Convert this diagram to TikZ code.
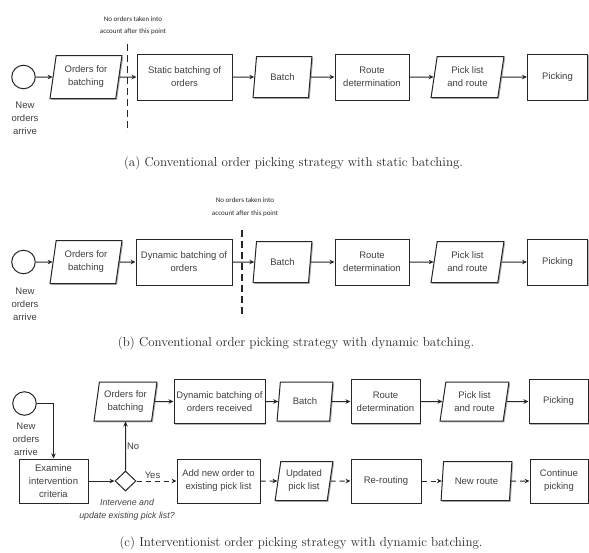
\documentclass[tikz,border=0pt]{standalone}
\usepackage{fontspec}
\newfontfamily\boxfont{Liberation Sans}
\newfontfamily\notefont{Carlito}
\usetikzlibrary{arrows.meta,shapes.geometric,shadows}

\tikzset{
  proc/.style={draw=black!85, line width=1pt, fill=white, align=center, inner sep=1pt,
    text=black!75, font=\boxfont\fontsize{9.5}{13}\selectfont,
    drop shadow={shadow xshift=1.3pt, shadow yshift=-1.3pt, fill=black!60, opacity=0.5}},
  data/.style={proc, trapezium, trapezium left angle=79, trapezium right angle=101,
    trapezium stretches=true},
  start/.style={circle, draw=black!85, line width=1pt, minimum size=23.5pt, inner sep=0pt},
  decide/.style={diamond, draw=black!85, line width=1pt, fill=white, minimum width=21pt,
    minimum height=20pt, inner sep=0pt},
  lbl/.style={align=center, inner sep=1pt, text=black!75, font=\boxfont\fontsize{9.5}{13}\selectfont},
  ask/.style={lbl, font=\boxfont\itshape\fontsize{8.8}{13}\selectfont},
  note/.style={align=center, inner sep=0pt, text=black!85, font=\notefont\fontsize{7}{12.5}\selectfont},
  capt/.style={inner sep=0pt, text=black!85, font=\fontsize{13}{15}\selectfont},
  cut/.style={draw=black!85, line width=1.3pt, dash pattern=on 7pt off 4pt},
  flow/.style={draw=black!85, line width=1pt, ->},
  later/.style={flow, dash pattern=on 5pt off 4pt}
}

\begin{document}
\begin{tikzpicture}[x=1pt, y=-1pt, >={Stealth[length=5pt,width=4.5pt]}]
  \useasboundingbox (0,0) rectangle (589,552);

  % (a) static batching
  \node[start] (newA) at (23.5, 77) {};
  \node[lbl] (newAtxt) at (25, 118) {New\\orders\\arrive};
  \node[data, minimum width=72pt, minimum height=43pt] (ordA) at (86, 77) {Orders for\\batching};
  \node[proc, minimum width=95pt, minimum height=46pt] (statA) at (184.5, 77) {Static batching of\\orders};
  \node[data, minimum width=59pt, minimum height=41pt] (batA) at (282.5, 77) {Batch};
  \node[proc, minimum width=74pt, minimum height=46pt] (routeA) at (372, 77) {Route\\determination};
  \node[data, minimum width=73pt, minimum height=41pt] (pickA) at (467.5, 77) {Pick list\\and route};
  \node[proc, minimum width=60pt, minimum height=46pt] (doA) at (557.5, 77) {Picking};
  \coordinate (cutAtop) at (127.7, 44);
  \coordinate (cutAbot) at (127.7, 132);
  \node[note] (noteA) at (133, 25.5) {No orders taken into\\account after this point};
  \node[capt] (captA) at (293.5, 163) {(a) Conventional order picking strategy with static batching.};

  \draw [flow] (newA) to (ordA);
  \draw [flow] (ordA) to (statA);
  \draw [flow] (statA) to (batA);
  \draw [flow] (batA) to (routeA);
  \draw [flow] (routeA) to (pickA);
  \draw [flow] (pickA) to (doA);
  \draw [cut] (cutAtop) to (cutAbot);

  % (b) dynamic batching
  \node[start] (newB) at (23.5, 262) {};
  \node[lbl] (newBtxt) at (25, 304) {New\\orders\\arrive};
  \node[data, minimum width=72pt, minimum height=43pt] (ordB) at (86, 262) {Orders for\\batching};
  \node[proc, minimum width=96pt, minimum height=46pt] (dynB) at (184, 262) {Dynamic batching of\\orders};
  \node[data, minimum width=59pt, minimum height=41pt] (batB) at (282.5, 262) {Batch};
  \node[proc, minimum width=74pt, minimum height=46pt] (routeB) at (372, 262) {Route\\determination};
  \node[data, minimum width=73pt, minimum height=41pt] (pickB) at (467.5, 262) {Pick list\\and route};
  \node[proc, minimum width=60pt, minimum height=46pt] (doB) at (557.5, 262) {Picking};
  \coordinate (cutBtop) at (242, 230);
  \coordinate (cutBbot) at (242, 315);
  \node[note] (noteB) at (245, 207) {No orders taken into\\account after this point};
  \node[capt] (captB) at (296, 343) {(b) Conventional order picking strategy with dynamic batching.};

  \draw [flow] (newB) to (ordB);
  \draw [flow] (ordB) to (dynB);
  \draw [flow] (dynB) to (batB);
  \draw [flow] (batB) to (routeB);
  \draw [flow] (routeB) to (pickB);
  \draw [flow] (pickB) to (doB);
  \draw [cut] (cutBtop) to (cutBbot);

  % (c) interventionist
  \node[start] (newC) at (24.5, 403.5) {};
  \node[lbl] (newCtxt) at (26, 439) {New\\orders\\arrive};
  \node[proc, minimum width=69pt, minimum height=44pt] (examC) at (53.5, 481) {Examine\\intervention\\criteria};
  \node[decide] (askC) at (125.5, 481) {};
  \node[ask] (askCtxt) at (127, 509.5) {Intervene and\\update existing pick list?};

  \node[data, minimum width=63pt, minimum height=39pt] (ordC) at (125.5, 401.5) {Orders for\\batching};
  \node[proc, minimum width=91pt, minimum height=44pt] (dynC) at (219.5, 401.5) {Dynamic batching of\\orders received};
  \node[data, minimum width=56pt, minimum height=39pt] (batC) at (305, 401.5) {Batch};
  \node[proc, minimum width=69pt, minimum height=44pt] (routeC) at (385.5, 401.5) {Route\\determination};
  \node[data, minimum width=69pt, minimum height=39pt] (pickC) at (474.5, 401.5) {Pick list\\and route};
  \node[proc, minimum width=59pt, minimum height=44pt] (doC) at (558.5, 401.5) {Picking};

  \node[proc, minimum width=83pt, minimum height=44pt] (addC) at (218.5, 481) {Add new order to\\existing pick list};
  \node[data, minimum width=58pt, minimum height=39pt] (updC) at (304, 481) {Updated\\pick list};
  \node[proc, minimum width=70pt, minimum height=44pt] (rerC) at (386, 481) {Re-routing};
  \node[data, minimum width=71pt, minimum height=39pt] (nrC) at (476.5, 481) {New route};
  \node[proc, minimum width=58pt, minimum height=44pt] (contC) at (559, 481) {Continue\\picking};
  \node[capt] (captC) at (301, 543) {(c) Interventionist order picking strategy with dynamic batching.};

  \draw [flow] (newC) -| (examC);
  \draw [flow] (examC) to (askC);
  \draw [flow] (askC) to node[lbl, right] (no) {No} (ordC);
  \draw [later] (askC) to node[lbl, pos=0.4, above=1pt] (yes) {Yes} (addC);
  \draw [flow] (ordC) to (dynC);
  \draw [flow] (dynC) to (batC);
  \draw [flow] (batC) to (routeC);
  \draw [flow] (routeC) to (pickC);
  \draw [flow] (pickC) to (doC);
  \draw [later] (addC) to (updC);
  \draw [later] (updC) to (rerC);
  \draw [later] (rerC) to (nrC);
  \draw [later] (nrC) to (contC);
\end{tikzpicture}
\end{document}
